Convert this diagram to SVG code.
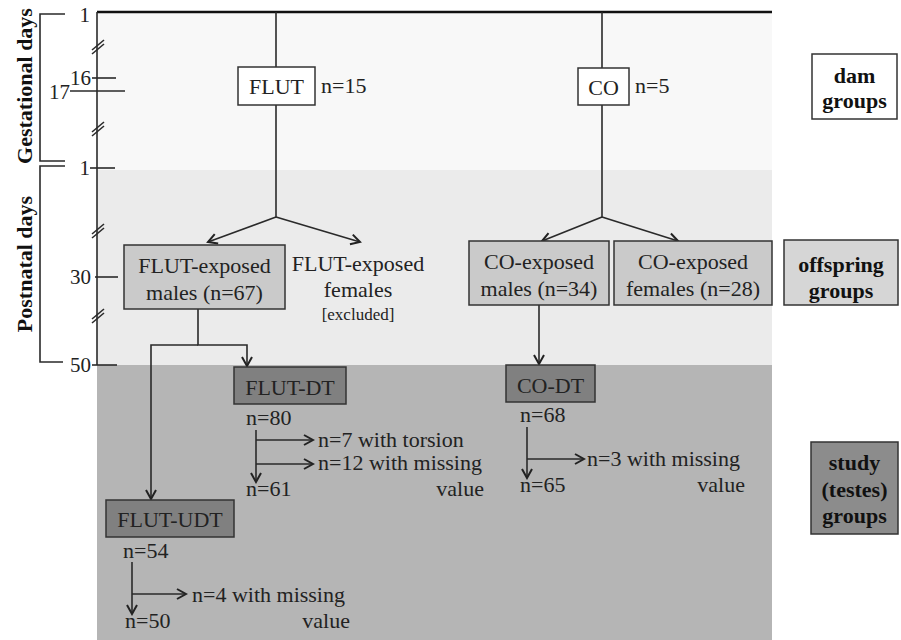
<svg xmlns="http://www.w3.org/2000/svg" width="901" height="640" viewBox="0 0 901 640">
<defs>
<marker id="arr" markerUnits="userSpaceOnUse" markerWidth="14" markerHeight="14" viewBox="0 0 14 14" refX="12" refY="7" orient="auto">
<path d="M3,2 L12,7 L3,12" fill="none" stroke="#222" stroke-width="2"/>
</marker>
<style>
.t{font-family:"Liberation Serif","Times New Roman",serif;font-size:22px;fill:#222}
.b{font-family:"Liberation Serif","Times New Roman",serif;font-size:22px;font-weight:bold;fill:#111}
.sm{font-family:"Liberation Serif","Times New Roman",serif;font-size:17px;fill:#222}
.ax{font-family:"Liberation Serif","Times New Roman",serif;font-size:21px;fill:#222}
.ln{stroke:#2a2a2a;stroke-width:1.6;fill:none}
.ar{stroke:#2a2a2a;stroke-width:1.6;fill:none;marker-end:url(#arr)}
.bx{stroke:#333;stroke-width:1.5}
</style>
</defs>
<rect width="901" height="640" fill="#ffffff"/>
<!-- bands -->
<rect x="97" y="12" width="675" height="158" fill="#f8f8f8"/>
<rect x="97" y="170" width="675" height="195" fill="#ebebeb"/>
<rect x="97" y="365" width="675" height="275" fill="#b5b5b5"/>
<line x1="97" y1="12" x2="772" y2="12" stroke="#111" stroke-width="2.5"/>

<!-- axis -->
<g id="axis">
<line x1="97" y1="12" x2="97" y2="365" class="ln" stroke-width="2"/>
<line x1="92" y1="50" x2="104" y2="40" class="ln"/>
<line x1="92" y1="54" x2="104" y2="44" class="ln"/>
<line x1="92" y1="132" x2="104" y2="122" class="ln"/>
<line x1="92" y1="136" x2="104" y2="126" class="ln"/>
<line x1="92" y1="78" x2="116" y2="78" class="ln"/>
<line x1="70" y1="91" x2="125" y2="91" class="ln"/>
<line x1="90" y1="168" x2="115" y2="168" class="ln"/>
<line x1="92" y1="234" x2="104" y2="224" class="ln"/>
<line x1="92" y1="238" x2="104" y2="228" class="ln"/>
<line x1="95" y1="277" x2="118" y2="277" class="ln"/>
<line x1="92" y1="319" x2="104" y2="309" class="ln"/>
<line x1="92" y1="323" x2="104" y2="313" class="ln"/>
<line x1="92" y1="365" x2="117" y2="365" class="ln"/>
<text class="ax" x="90" y="22" text-anchor="end">1</text>
<text class="ax" x="91" y="85" text-anchor="end">16</text>
<text class="ax" x="70" y="99" text-anchor="end">17</text>
<text class="ax" x="90" y="175" text-anchor="end">1</text>
<text class="ax" x="91" y="284" text-anchor="end">30</text>
<text class="ax" x="91" y="372" text-anchor="end">50</text>
<path d="M65,14 H40 V161 H65" class="ln" stroke-width="2.2"/>
<path d="M65,166 H40 V362 H63" class="ln" stroke-width="2.2"/>
<text class="b" font-size="24" transform="translate(32,86) rotate(-90)" text-anchor="middle">Gestational days</text>
<text class="b" font-size="23" transform="translate(32,264) rotate(-90)" text-anchor="middle">Postnatal days</text>
</g>

<!-- connectors -->
<g id="connectors">
<line x1="276" y1="12" x2="276" y2="67" class="ln"/>
<line x1="276" y1="105" x2="276" y2="217" class="ln"/>
<line x1="276" y1="217" x2="208" y2="242" class="ar"/>
<line x1="276" y1="217" x2="360" y2="242" class="ar"/>
<line x1="602" y1="12" x2="602" y2="68" class="ln"/>
<line x1="602" y1="105" x2="602" y2="217" class="ln"/>
<line x1="602" y1="217" x2="542" y2="241" class="ar"/>
<line x1="602" y1="217" x2="678" y2="241" class="ar"/>
<path d="M198,309 V345 H247 V366" class="ar"/>
<path d="M198,345 H151 V499" class="ar"/>
<line x1="539" y1="305" x2="539" y2="364" class="ar"/>
<line x1="256" y1="430" x2="256" y2="482" class="ar"/>
<line x1="256" y1="440" x2="313" y2="440" class="ar"/>
<line x1="256" y1="464" x2="313" y2="464" class="ar"/>
<line x1="132" y1="562" x2="132" y2="614" class="ar"/>
<line x1="132" y1="594" x2="186" y2="594" class="ar"/>
<line x1="527" y1="427" x2="527" y2="478" class="ar"/>
<line x1="527" y1="459" x2="584" y2="459" class="ar"/>
</g>

<g id="flut">
<rect x="238" y="67" width="77" height="38" fill="#ffffff" class="bx"/>
<text class="t" x="276.5" y="94" text-anchor="middle">FLUT</text>
<text class="t" x="321" y="93">n=15</text>
</g>
<g id="co">
<rect x="578" y="68" width="51" height="37" fill="#ffffff" class="bx"/>
<text class="t" x="603.5" y="95" text-anchor="middle">CO</text>
<text class="t" x="635" y="93">n=5</text>
</g>
<g id="dam-groups">
<rect x="812" y="54" width="85" height="65" fill="#ffffff" class="bx"/>
<text class="b" x="854.5" y="83" text-anchor="middle">dam</text>
<text class="b" x="854.5" y="108" text-anchor="middle">groups</text>
</g>
<g id="flut-males">
<rect x="124" y="245" width="161" height="64" fill="#cacaca" class="bx"/>
<text class="t" x="204.5" y="273" text-anchor="middle">FLUT-exposed</text>
<text class="t" x="204.5" y="300" text-anchor="middle">males (n=67)</text>
</g>
<g id="flut-females">
<text class="t" x="358" y="271" text-anchor="middle">FLUT-exposed</text>
<text class="t" x="358" y="297" text-anchor="middle">females</text>
<text class="sm" x="358" y="320" text-anchor="middle">[excluded]</text>
</g>
<g id="co-males">
<rect x="469" y="241" width="140" height="64" fill="#cacaca" class="bx"/>
<text class="t" x="539" y="269" text-anchor="middle">CO-exposed</text>
<text class="t" x="539" y="296" text-anchor="middle">males (n=34)</text>
</g>
<g id="co-females">
<rect x="614" y="241" width="158" height="64" fill="#cacaca" class="bx"/>
<text class="t" x="693" y="269" text-anchor="middle">CO-exposed</text>
<text class="t" x="693" y="296" text-anchor="middle">females (n=28)</text>
</g>
<g id="offspring-groups">
<rect x="784" y="240" width="114" height="65" fill="#d6d6d6" class="bx"/>
<text class="b" x="841" y="272" text-anchor="middle">offspring</text>
<text class="b" x="841" y="298" text-anchor="middle">groups</text>
</g>
<g id="flut-dt">
<rect x="234" y="367" width="112" height="37" fill="#808080" class="bx"/>
<text class="t" x="290" y="395" text-anchor="middle">FLUT-DT</text>
<text class="t" x="246" y="425">n=80</text>
<text class="t" x="318" y="447">n=7 with torsion</text>
<text class="t" x="318" y="470">n=12 with missing</text>
<text class="t" x="484" y="496" text-anchor="end">value</text>
<text class="t" x="246" y="496">n=61</text>
</g>
<g id="flut-udt">
<rect x="106" y="500" width="128" height="37" fill="#808080" class="bx"/>
<text class="t" x="170" y="527" text-anchor="middle">FLUT-UDT</text>
<text class="t" x="123" y="558">n=54</text>
<text class="t" x="192" y="602">n=4 with missing</text>
<text class="t" x="350" y="628" text-anchor="end">value</text>
<text class="t" x="125" y="628">n=50</text>
</g>
<g id="co-dt">
<rect x="506" y="365" width="89" height="37" fill="#808080" class="bx"/>
<text class="t" x="550.5" y="393" text-anchor="middle">CO-DT</text>
<text class="t" x="520" y="422">n=68</text>
<text class="t" x="587" y="466">n=3 with missing</text>
<text class="t" x="745" y="492" text-anchor="end">value</text>
<text class="t" x="520" y="492">n=65</text>
</g>
<g id="study-groups">
<rect x="811" y="442" width="87" height="92" fill="#8c8c8c" class="bx"/>
<text class="b" x="854.5" y="470" text-anchor="middle">study</text>
<text class="b" x="854.5" y="497" text-anchor="middle">(testes)</text>
<text class="b" x="854.5" y="523" text-anchor="middle">groups</text>
</g>
</svg>
